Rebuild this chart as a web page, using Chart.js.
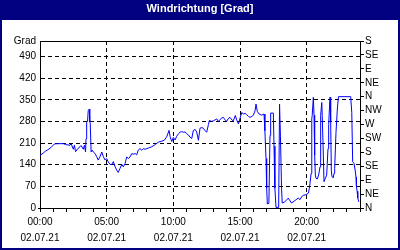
<!DOCTYPE html>
<html><head><meta charset="utf-8">
<script src="https://cdn.jsdelivr.net/npm/chart.js@4/dist/chart.umd.min.js"></script>
<style>html,body{margin:0;padding:0;background:#fff}#wrap{width:400px;height:250px}</style>
</head><body><div id="wrap"><canvas id="c" width="400" height="250"></canvas></div>
<script>
const chartTitle = 'Windrichtung [Grad]';
const dateLabel = '02.07.21';
const leftUnit = 'Grad';
const leftTicks = [0, 70, 140, 210, 280, 350, 420, 490];
const compassLabels = ['N','NE','E','SE','S','SW','W','NW','N','NE','E','SE','S'];
const hourLabels = ['00:00','05:00','10:00','15:00','20:00'];

const times = ['00:00','00:15','00:25','00:35','00:50','01:05','01:20','01:45','01:55','02:15','02:20','02:30','02:35','02:40','02:50','03:00','03:05','03:15','03:20','03:25','03:27','03:30','03:34','03:37','03:42','03:44','03:46','03:50','03:55','04:00','04:08','04:15','04:22','04:30','04:38','04:45','04:53','05:00','05:07','05:15','05:23','05:30','05:38','05:45','05:52','06:00','06:08','06:15','06:23','06:30','06:38','06:45','06:53','07:00','07:08','07:15','07:22','07:30','07:38','07:45','07:53','08:08','08:23','08:38','08:53','09:08','09:19','09:30','09:41','09:45','09:53','10:00','10:08','10:15','10:23','10:30','10:38','10:45','10:53','11:00','11:08','11:15','11:23','11:30','11:38','11:45','11:53','12:00','12:08','12:15','12:23','12:30','12:38','12:42','12:53','13:00','13:08','13:15','13:23','13:30','13:38','13:45','13:53','14:00','14:08','14:15','14:23','14:30','14:39','14:45','14:53','15:00','15:08','15:15','15:23','15:30','15:38','15:45','15:53','16:00','16:08','16:12','16:18','16:26','16:38','16:48','16:52','16:57','17:00','17:03','17:10','17:15','17:18','17:30','17:33','17:37','17:42','17:54','17:58','18:02','18:07','18:10','18:22','18:37','18:52','19:07','19:22','19:30','19:38','19:45','19:57','20:08','20:12','20:15','20:20','20:23','20:25','20:30','20:33','20:36','20:39','20:42','20:48','20:54','21:00','21:03','21:08','21:10','21:15','21:18','21:24','21:30','21:36','21:39','21:45','21:48','21:51','21:54','22:00','22:03','22:06','22:12','22:18','22:23','23:18','23:23','23:27','23:33','23:38','23:42','23:44','23:47','23:50','23:55'];
const directions = [170,178,184,188,196,207,208,208,205,203,208,190,203,182,192,198,202,190,203,181,224,277,280,315,320,278,275,181,187,181,176,166,155,166,181,166,155,160,149,141,141,150,133,123,115,128,141,133,144,165,160,165,176,174,176,172,187,192,187,192,190,194,198,205,213,216,219,230,251,232,215,228,220,232,240,245,247,245,246,240,236,229,225,251,254,246,219,258,260,258,250,245,270,283,280,282,285,288,280,286,291,293,285,280,290,293,285,282,299,285,272,290,309,304,306,302,296,293,296,300,315,336,312,304,300,304,250,160,64,13,15,235,307,307,200,64,2,2,336,230,64,16,20,32,16,24,32,27,37,41,43,48,64,80,112,288,300,358,300,171,107,96,94,107,133,300,341,300,171,85,96,106,192,270,358,280,120,101,98,112,128,245,320,360,360,309,150,144,123,100,70,54,32,20];

function toMin(t){ const p = t.split(':'); return (+p[0])*60 + (+p[1]); }
const points = times.map((t, i) => ({ x: toMin(t), y: directions[i] }));
const hourMinutes = hourLabels.map(toMin);

const frame = {
  id: 'frame',
  beforeDraw(chart) {
    const c = chart.ctx, W = chart.width, H = chart.height;
    c.save();
    c.fillStyle = '#ffffff'; c.fillRect(0, 0, W, H);
    c.fillStyle = '#000080';
    c.fillRect(0, 0, W, 20);
    c.fillRect(0, 0, 2, H);
    c.fillRect(W - 2, 0, 2, H);
    c.fillRect(0, H - 2, W, 2);
    c.restore();
  }
};

const FONT = { family: '"Liberation Sans", Arial, sans-serif', size: 10 };

new Chart(document.getElementById('c'), {
  type: 'line',
  data: { datasets: [{ data: points, borderColor: '#0000ff', borderWidth: 1, pointRadius: 0, tension: 0, fill: false, yAxisID: 'y' }] },
  options: {
    responsive: false, animation: false, devicePixelRatio: 1,
    layout: { padding: { left: 2, right: 2, bottom: 2, top: 0 } },
    plugins: {
      legend: { display: false }, tooltip: { enabled: false },
      title: { display: true, text: chartTitle, color: '#ffffff', font: { family: '"Liberation Sans", Arial, sans-serif', size: 11, weight: 'bold', lineHeight: 1.2 }, padding: { top: 2, bottom: 25.8 } }
    },
    scales: {
      x: {
        type: 'linear', min: 0, max: 1440,
        afterBuildTicks(s) { s.ticks = []; for (let m = 0; m <= 1440; m += 60) s.ticks.push({ value: m }); },
        ticks: { autoSkip: false, maxRotation: 0, padding: 2, color: '#000', font: { ...FONT, lineHeight: 1.6 },
          callback(v) { const i = hourMinutes.indexOf(v); return i >= 0 ? [hourLabels[i], dateLabel] : ''; } },
        grid: { color: c => (c.tick && c.tick.value % 300 === 0 && c.tick.value > 0 && c.tick.value < 1440) ? '#000' : 'transparent',
          tickColor: '#000', tickLength: 4, tickBorderDash: [], lineWidth: 1 },
        border: { color: '#000', dash: [4, 3] }
      },
      y: {
        position: 'left', min: 0, max: 540,
        afterBuildTicks(s) { s.ticks = leftTicks.concat([540]).map(v => ({ value: v })); },
        afterFit(s) { s.width = 38; },
        ticks: { autoSkip: false, padding: 2, color: '#000', font: FONT, callback(v) { return v === 540 ? leftUnit : String(v); } },
        grid: { color: c => (c.tick && c.tick.value > 0) ? '#000' : 'transparent', tickColor: c => (c.tick && c.tick.value === 0) ? '#000' : 'transparent', tickLength: 2, tickBorderDash: [] },
        border: { color: '#000', dash: c => (c.tick && c.tick.value === 540) ? [] : [4, 3] }
      },
      y2: {
        position: 'right', min: 0, max: 540,
        afterBuildTicks(s) { s.ticks = compassLabels.map((_, i) => ({ value: i * 45 })); },
        afterFit(s) { s.width = 38; },
        ticks: { autoSkip: false, padding: 1, color: '#000', font: FONT, callback(v) { return compassLabels[Math.round(v / 45)]; } },
        grid: { drawOnChartArea: false, tickColor: '#000', tickLength: 4 },
        border: { color: '#000' }
      }
    }
  },
  plugins: [frame]
});
</script></body></html>
